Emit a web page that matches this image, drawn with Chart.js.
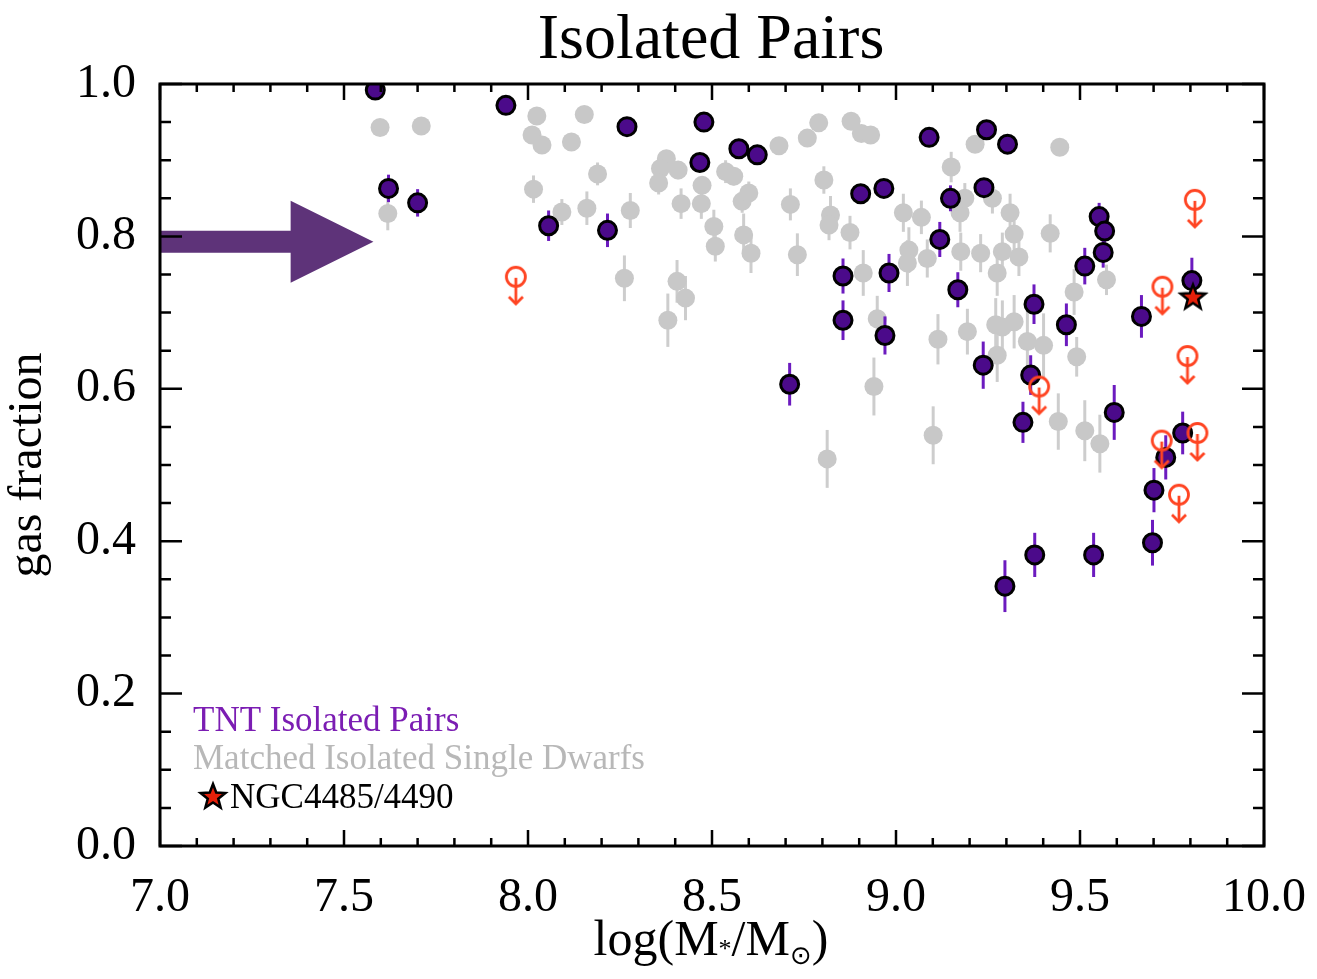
<!DOCTYPE html>
<html>
<head>
<meta charset="utf-8">
<title>Isolated Pairs</title>
<script src="https://cdn.jsdelivr.net/npm/chart.js@4.4.0/dist/chart.umd.min.js"></script>
<style>
  html, body { margin: 0; padding: 0; background: #fff; }
  #wrap { width: 1317px; height: 979px; }
</style>
</head>
<body>
<div id="wrap"><canvas id="chart" width="1317" height="979"></canvas></div>
<script>
// TNT isolated pairs (purple)
const pairsMass = [7.585, 7.621, 7.700, 7.940, 8.056, 8.216, 8.269, 8.478, 8.467, 8.573, 8.623,
    8.711, 8.856, 8.856, 8.904, 8.970, 8.967, 8.981, 9.090, 9.119, 9.148, 9.168, 9.237, 9.239,
    9.246, 9.303, 9.296, 9.345, 9.366, 9.375, 9.377, 9.463, 9.513, 9.537, 9.552, 9.567, 9.563,
    9.593, 9.667, 9.697, 9.701, 9.733, 9.779, 9.804];
const pairsGas = [0.992, 0.863, 0.844, 0.972, 0.814, 0.808, 0.944, 0.950, 0.897, 0.915, 0.907,
    0.606, 0.748, 0.690, 0.856, 0.670, 0.863, 0.752, 0.930, 0.796, 0.850, 0.730, 0.631, 0.864,
    0.940, 0.921, 0.341, 0.556, 0.618, 0.711, 0.382, 0.684, 0.761, 0.382, 0.826, 0.807, 0.779,
    0.569, 0.695, 0.398, 0.467, 0.510, 0.542, 0.742];
const pairsErr = [0.004, 0.018, 0.018, 0.004, 0.020, 0.022, 0.004, 0.004, 0.004, 0.004, 0.004,
    0.028, 0.023, 0.026, 0.006, 0.025, 0.006, 0.025, 0.004, 0.023, 0.017, 0.023, 0.031, 0.010,
    0.004, 0.004, 0.034, 0.027, 0.026, 0.026, 0.029, 0.028, 0.024, 0.029, 0.018, 0.020, 0.020,
    0.036, 0.028, 0.030, 0.029, 0.029, 0.028, 0.030];

// Matched isolated single dwarfs (grey)
const singleMass = [7.598, 7.710, 7.619, 8.024, 8.153, 8.011, 8.038, 8.118, 8.015, 8.189, 8.092,
    8.160, 8.278, 8.262, 8.376, 8.360, 8.355, 8.408, 8.416, 8.473, 8.471, 8.405, 8.428, 8.380,
    8.505, 8.509, 8.537, 8.559, 8.582, 8.600, 8.586, 8.606, 8.682, 8.759, 8.790, 8.878, 8.906,
    8.931, 8.804, 8.713, 8.822, 8.818, 8.875, 8.732, 8.911, 8.949, 8.940, 9.215, 9.445, 9.150,
    9.020, 9.069, 9.174, 9.187, 9.262, 9.310, 9.321, 9.419, 9.035, 9.031, 9.085, 9.176, 9.230,
    9.289, 9.334, 9.275, 9.572, 9.484, 9.114, 9.194, 9.271, 9.289, 9.321, 9.275, 9.357, 9.401,
    9.491, 8.813, 9.101, 9.441, 9.513, 9.554];
const singleGas = [0.943, 0.945, 0.830, 0.958, 0.960, 0.933, 0.920, 0.924, 0.862, 0.882, 0.832,
    0.837, 0.834, 0.745, 0.902, 0.889, 0.870, 0.887, 0.843, 0.867, 0.843, 0.741, 0.719, 0.690,
    0.813, 0.787, 0.885, 0.879, 0.846, 0.857, 0.802, 0.778, 0.919, 0.929, 0.949, 0.951, 0.935,
    0.933, 0.874, 0.842, 0.828, 0.815, 0.805, 0.776, 0.752, 0.692, 0.603, 0.921, 0.917, 0.891,
    0.831, 0.825, 0.831, 0.850, 0.850, 0.831, 0.803, 0.804, 0.782, 0.765, 0.771, 0.780, 0.778,
    0.780, 0.773, 0.752, 0.743, 0.727, 0.665, 0.675, 0.684, 0.681, 0.688, 0.644, 0.662, 0.657,
    0.642, 0.508, 0.539, 0.557, 0.545, 0.528];
const singleErr = [0.005, 0.005, 0.022, 0.005, 0.005, 0.006, 0.008, 0.008, 0.018, 0.015, 0.017,
    0.022, 0.023, 0.030, 0.010, 0.010, 0.015, 0.012, 0.020, 0.012, 0.020, 0.028, 0.029, 0.035,
    0.022, 0.020, 0.015, 0.012, 0.015, 0.015, 0.028, 0.026, 0.006, 0.006, 0.006, 0.006, 0.006,
    0.006, 0.018, 0.021, 0.025, 0.020, 0.022, 0.028, 0.030, 0.030, 0.038, 0.006, 0.010, 0.020,
    0.025, 0.022, 0.025, 0.020, 0.020, 0.025, 0.025, 0.025, 0.030, 0.030, 0.025, 0.025, 0.025,
    0.025, 0.025, 0.030, 0.020, 0.030, 0.033, 0.030, 0.035, 0.035, 0.035, 0.035, 0.045, 0.042,
    0.026, 0.038, 0.038, 0.037, 0.040, 0.038];

// upper limits (red)
const limitMass = [7.967, 9.812, 9.724, 9.792, 9.389, 9.722, 9.819, 9.769];
const limitGas = [0.747, 0.848, 0.734, 0.643, 0.603, 0.532, 0.542, 0.461];

// NGC4485/4490
const ngcMass = [9.807];
const ngcGas = [0.721];

// axis ticks
const xTicks = [7.0, 7.5, 8.0, 8.5, 9.0, 9.5, 10.0];
const yTicks = [0.0, 0.2, 0.4, 0.6, 0.8, 1.0];

const serif = '"Liberation Serif", "DejaVu Serif", serif';
const red = '#ff4422';

function toPoints(xs, ys) {
    return xs.map((x, i) => ({ x: x, y: ys[i] }));
}

// Upper limit marker: open circle with an arrow pointing down
function makeLimitMarker() {
    const c = document.createElement('canvas');
    c.width = 28;
    c.height = 68;
    const g = c.getContext('2d');
    const cx = 14, cy = 34;
    g.strokeStyle = red;
    g.lineWidth = 2.8;
    g.beginPath();
    g.arc(cx, cy, 9.5, 0, Math.PI * 2);
    g.stroke();
    g.beginPath();
    g.moveTo(cx, cy + 1);
    g.lineTo(cx, cy + 27);
    g.stroke();
    g.beginPath();
    g.moveTo(cx - 7, cy + 20);
    g.lineTo(cx, cy + 27);
    g.lineTo(cx + 7, cy + 20);
    g.stroke();
    return c;
}

function makeStar() {
    const c = document.createElement('canvas');
    c.width = 32;
    c.height = 32;
    const g = c.getContext('2d');
    g.beginPath();
    for (let i = 0; i < 10; i++) {
        const r = i % 2 === 0 ? 13 : 5.5;
        const a = -Math.PI / 2 + i * Math.PI / 5;
        const px = 16 + r * Math.cos(a);
        const py = 17 + r * Math.sin(a);
        if (i === 0) g.moveTo(px, py); else g.lineTo(px, py);
    }
    g.closePath();
    g.fillStyle = '#e5200a';
    g.fill();
    g.lineWidth = 2.5;
    g.lineJoin = 'miter';
    g.strokeStyle = '#000';
    g.stroke();
    return c;
}

const limitMarker = makeLimitMarker();
const starMarker = makeStar();

// Error bars, frame, inward ticks, arrow, titles and legend
const decorPlugin = {
    id: 'decor',
    beforeDatasetDraw(chart, args) {
        const ds = chart.data.datasets[args.index];
        if (!ds.errors) return;
        const ctx = chart.ctx;
        const xs = chart.scales.x, ys = chart.scales.y;
        ctx.save();
        ctx.strokeStyle = ds.errorColor;
        ctx.lineWidth = 3;
        ds.data.forEach((p, i) => {
            const px = xs.getPixelForValue(p.x);
            ctx.beginPath();
            ctx.moveTo(px, ys.getPixelForValue(p.y - ds.errors[i]));
            ctx.lineTo(px, ys.getPixelForValue(p.y + ds.errors[i]));
            ctx.stroke();
        });
        ctx.restore();
    },
    afterDatasetsDraw(chart) {
        const ctx = chart.ctx;
        const { left, right, top, bottom } = chart.chartArea;
        const xs = chart.scales.x, ys = chart.scales.y;
        ctx.save();

        // big arrow pointing at 0.8
        const ay = ys.getPixelForValue(0.793);
        const tip = xs.getPixelForValue(7.58);
        const base = xs.getPixelForValue(7.355);
        ctx.fillStyle = '#5e3379';
        ctx.beginPath();
        ctx.moveTo(left, ay - 11);
        ctx.lineTo(base, ay - 11);
        ctx.lineTo(base, ay - 41);
        ctx.lineTo(tip, ay);
        ctx.lineTo(base, ay + 41);
        ctx.lineTo(base, ay + 11);
        ctx.lineTo(left, ay + 11);
        ctx.closePath();
        ctx.fill();

        // frame
        ctx.strokeStyle = '#000';
        ctx.lineWidth = 3;
        ctx.strokeRect(left, top, right - left, bottom - top);

        // inward ticks
        ctx.lineWidth = 2.5;
        ctx.beginPath();
        for (let i = 0; i <= 30; i++) {
            const px = xs.getPixelForValue(7 + i / 10);
            const len = i % 5 === 0 ? 16 : 8;
            ctx.moveTo(px, bottom); ctx.lineTo(px, bottom - len);
            ctx.moveTo(px, top); ctx.lineTo(px, top + len);
        }
        for (let i = 0; i <= 20; i++) {
            const py = ys.getPixelForValue(i / 20);
            const len = i % 4 === 0 ? 22 : 11;
            ctx.moveTo(left, py); ctx.lineTo(left + len, py);
            ctx.moveTo(right, py); ctx.lineTo(right - len, py);
        }
        ctx.stroke();

        // title
        ctx.fillStyle = '#000';
        ctx.textBaseline = 'alphabetic';
        ctx.textAlign = 'center';
        ctx.font = '64px ' + serif;
        ctx.fillText('Isolated Pairs', 711, 58);

        // x axis title: log(M*/M_sun)
        const big = '50px ' + serif, small = '26px ' + serif;
        const parts = [
            { t: 'log(M', f: big, dy: 0 },
            { t: '*', f: small, dy: 2 },
            { t: '/M', f: big, dy: 0 },
            { t: '\u2299', f: '26px "DejaVu Sans", sans-serif', dy: 9 },
            { t: ')', f: big, dy: 0 }
        ];
        let total = 0;
        parts.forEach(p => { ctx.font = p.f; p.w = ctx.measureText(p.t).width; total += p.w; });
        let cx = 711 - total / 2;
        ctx.textAlign = 'left';
        parts.forEach(p => {
            ctx.font = p.f;
            ctx.fillText(p.t, cx, 955 + p.dy);
            cx += p.w;
        });

        // legend
        ctx.font = '35px ' + serif;
        ctx.fillStyle = '#7b1db3';
        ctx.fillText('TNT Isolated Pairs', left + 33, 731);
        ctx.fillStyle = '#b8b8b8';
        ctx.fillText('Matched Isolated Single Dwarfs', left + 33, 769);
        ctx.drawImage(starMarker, left + 53 - 16, 797 - 17);
        ctx.fillStyle = '#000';
        ctx.fillText('NGC4485/4490', left + 70, 808);

        ctx.restore();
    }
};

const ctx = document.getElementById('chart').getContext('2d');

const chart = new Chart(ctx, {
    type: 'scatter',
    data: {
        datasets: [
            {
                label: 'NGC4485/4490',
                data: toPoints(ngcMass, ngcGas),
                pointStyle: starMarker,
                order: 1
            },
            {
                label: 'Upper limits',
                data: toPoints(limitMass, limitGas),
                pointStyle: limitMarker,
                order: 2
            },
            {
                label: 'TNT Isolated Pairs',
                data: toPoints(pairsMass, pairsGas),
                errors: pairsErr,
                errorColor: '#6c1bbf',
                backgroundColor: '#4b0a8a',
                borderColor: '#000',
                borderWidth: 3,
                pointRadius: 9,
                order: 3
            },
            {
                label: 'Matched Isolated Single Dwarfs',
                data: toPoints(singleMass, singleGas),
                errors: singleErr,
                errorColor: '#cdcdcd',
                backgroundColor: '#c8c8c8',
                borderWidth: 0,
                pointRadius: 9.5,
                order: 4
            }
        ]
    },
    options: {
        responsive: false,
        animation: false,
        events: [],
        devicePixelRatio: 1,
        layout: { padding: { left: 0, top: 84, right: 53, bottom: 0 } },
        plugins: {
            legend: { display: false },
            tooltip: { enabled: false },
            title: { display: false }
        },
        scales: {
            x: {
                type: 'linear',
                min: 7,
                max: 10,
                afterFit: scale => {
                    scale.height = 133;
                    scale.paddingLeft = 0;
                    scale.paddingRight = 0;
                },
                afterBuildTicks: scale => { scale.ticks = xTicks.map(v => ({ value: v })); },
                grid: { display: false },
                border: { display: false },
                ticks: {
                    padding: 16,
                    color: '#000',
                    font: { family: serif, size: 48 },
                    maxRotation: 0,
                    callback: v => v.toFixed(1)
                }
            },
            y: {
                type: 'linear',
                min: 0,
                max: 1,
                afterFit: scale => {
                    scale.width = 160;
                    scale.paddingTop = 0;
                    scale.paddingBottom = 0;
                },
                afterBuildTicks: scale => { scale.ticks = yTicks.map(v => ({ value: v })); },
                grid: { display: false },
                border: { display: false },
                title: {
                    display: true,
                    text: 'gas fraction',
                    color: '#000',
                    font: { family: serif, size: 48, lineHeight: 1 },
                    padding: { top: 4, bottom: 0 }
                },
                ticks: {
                    padding: 16,
                    color: '#000',
                    font: { family: serif, size: 48 },
                    callback: v => v.toFixed(1)
                }
            }
        }
    },
    plugins: [decorPlugin]
});
</script>
</body>
</html>
